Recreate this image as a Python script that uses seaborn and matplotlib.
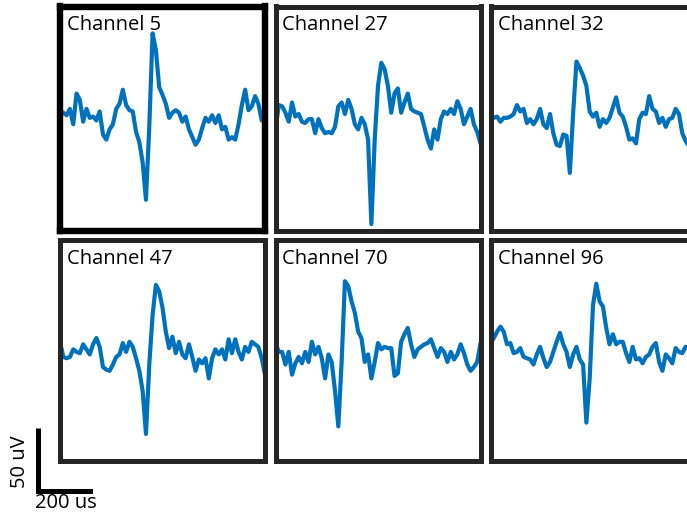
import numpy as np
import matplotlib
matplotlib.use("Agg")
import matplotlib.pyplot as plt
import seaborn as sns

# spike waveforms in uV, one sample every 12.5 us
channel_names = ["Channel 5", "Channel 27", "Channel 32",
                 "Channel 47", "Channel 70", "Channel 96"]

ch5 = [4, 3, 1, 6, -6, 18, 13, -4, 6, -1, 0, -3, 4, -14, -18, -10, -6, 6, 10, 21,
       9, 5, 4, -12, -20, -36, -65, -8, 65, 52, 23, 17, 10, -1, 3, 5, 3, -4, 0, -10,
       -16, -22, -18, -9, -1, -4, 1, -5, 1, -10, -8, -18, -16, -18, -6, 9, 21, 5, 8, 16,
       10, -3, -4]
ch27 = [-10, 9, 8, 3, -4, 11, 0, 2, -4, -5, -2, -2, -13, -2, -9, -13, -12, -13, -8, 8,
        11, 2, 13, 6, -6, -10, -1, -6, -18, -84, -18, 24, 42, 37, 24, 3, 18, 22, 3, 11,
        18, 6, 4, 3, 2, -8, -18, -25, -10, -18, -2, 4, 2, 6, 2, 12, 6, -6, 0, 6,
        -6, -12, -21]
ch32 = [2, -1, 0, -4, -1, -1, 0, 2, 9, 4, 6, -5, -2, -6, -2, 6, -6, -9, 2, -13,
        -22, -23, -14, -15, -44, 3, 43, 38, 32, 24, 4, 0, 3, -8, -2, -5, -1, 7, 15, 3,
        0, -8, -18, -17, -21, -2, 3, 2, 16, 6, 4, -5, -1, -8, -2, -1, 6, 2, -13, -19,
        -23, -25, -26]
ch47 = [5, -7, -8, -7, -1, -3, -4, 3, -1, -5, 3, 8, 1, -15, -17, -18, -13, -7, -5, 4,
        -3, 5, 1, -8, -18, -34, -68, -13, 26, 50, 45, 32, 13, 0, 9, -4, 5, -5, -8, 3,
        -7, -18, -9, -12, -8, -24, -8, -1, -5, -1, -9, 7, -4, 7, -3, -9, 1, -3, 5, 3,
        1, -8, -21]
ch70 = [4, -3, -3, -13, -3, -21, -12, -7, -12, -3, -11, 5, -5, 1, -8, -24, -5, -11, -34, -62,
        -11, 53, 49, 37, 28, 13, 8, -11, -5, -24, -11, 4, -1, 1, 0, 0, -22, -20, 5, 11,
        16, 3, -7, -1, 1, 3, 4, 7, 0, -7, 0, -3, -11, -3, -9, -5, 3, -4, -13, -18,
        -15, -11, 4]
ch96 = [4, 8, 13, 17, 13, 3, 4, -4, -3, 0, -7, -8, -9, -13, -5, 1, -8, -15, -11, -3,
        5, 12, 3, -3, -15, -5, 1, -9, -13, -59, -24, 34, 51, 37, 33, 16, 3, 11, 3, 5,
        5, -4, -11, 1, -9, -8, -12, -7, -5, 1, 4, -11, -18, -5, -8, -12, 0, -3, -4, 1,
        0, -1, 1]
waveforms = [ch5, ch27, ch32, ch47, ch70, ch96]

dt_us = 12.5
scale_us = 200
scale_uv = 50
y_range = (-89, 86)

sns.set_style("white")
plt.rcParams["font.family"] = ["Open Sans", "DejaVu Sans"]

W, H = 687, 513
fig = plt.figure(figsize=(W / 100, H / 100), dpi=100)

# panel boxes in pixels (left, top, bottom), width shared
col_x = [60, 275.5, 490.5]
rows = [(6.5, 230.5), (239.5, 460.5)]
pw = 205
blue = "#0072BD"

for k, (name, vals) in enumerate(zip(channel_names, waveforms)):
    r, c = divmod(k, 3)
    top, bot = rows[r]
    ax = fig.add_axes([col_x[c] / W, (H - bot) / H, pw / W, (bot - top) / H])
    t = np.arange(len(vals)) * dt_us
    sns.lineplot(x=t, y=vals, ax=ax, color=blue, linewidth=3.0)
    ax.set_xlim(0, t[-1])
    ax.set_ylim(*y_range)
    ax.set_xticks([])
    ax.set_yticks([])
    ax.set_xlabel("")
    ax.set_ylabel("")
    for sp in ax.spines.values():
        sp.set_visible(True)
        if k == 0:
            sp.set_linewidth(4.6)
            sp.set_color("black")
        else:
            sp.set_linewidth(3.6)
            sp.set_color("#262626")
    ax.annotate(name, xy=(0, 1), xycoords="axes fraction", xytext=(7, -9),
                textcoords="offset pixels", ha="left", va="top",
                fontsize=14.5, color="black")

# scale bar, drawn at the same data scale as the panels
sb_w = scale_us / (len(ch5) - 1) / dt_us * pw
sb_h = scale_uv / (y_range[1] - y_range[0]) * (rows[1][1] - rows[1][0])
sb_left, sb_bot = 37.5, 491
sax = fig.add_axes([sb_left / W, (H - sb_bot) / H, sb_w / W, sb_h / H])
sax.plot([0, scale_us], [0, 0], color="black", lw=3.6,
         solid_capstyle="projecting", clip_on=False)
sax.plot([0, 0], [0, scale_uv], color="black", lw=3.6,
         solid_capstyle="butt", clip_on=False)
sax.set_xlim(0, scale_us)
sax.set_ylim(0, scale_uv)
sax.axis("off")

fig.text(20 / W, 1 - 462 / H, f"{scale_uv} uV", rotation=90,
         ha="center", va="center", fontsize=14.5, color="black")
fig.text(66 / W, 1 - 503 / H, f"{scale_us} us",
         ha="center", va="center", fontsize=14.5, color="black")

fig.savefig("out.png", dpi=100)
